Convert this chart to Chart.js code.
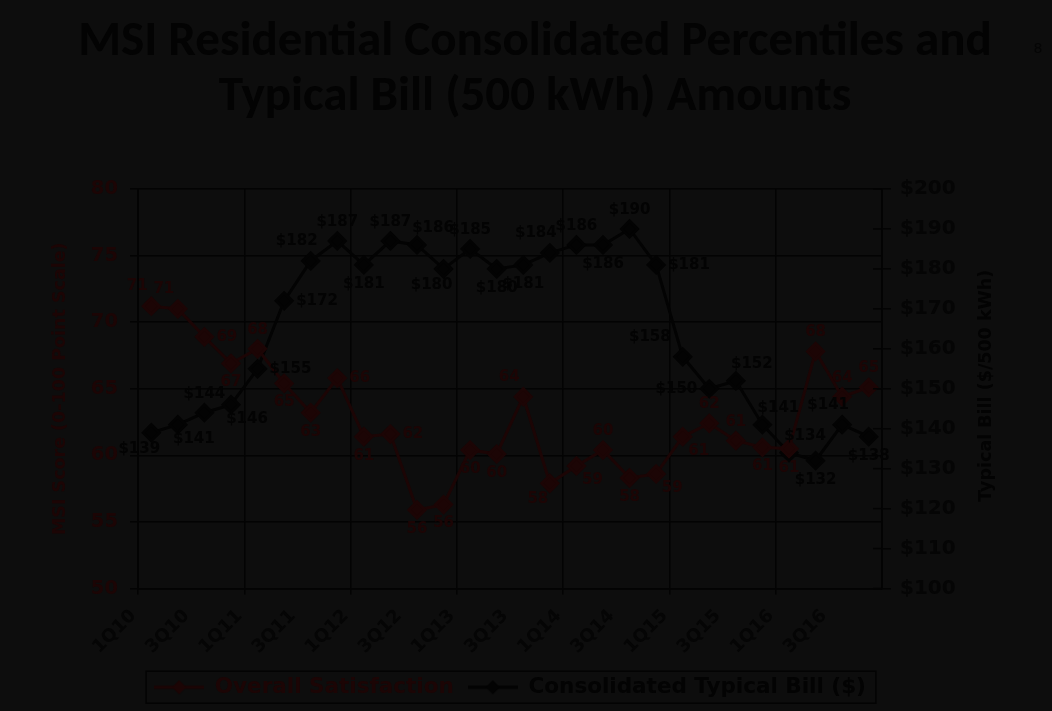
<!DOCTYPE html>
<html>
<head>
<meta charset="utf-8">
<script src="https://cdn.jsdelivr.net/npm/chart.js"></script>
<style>
html,body{margin:0;padding:0;background:#0d0d0d;}
#wrap{position:relative;width:1052px;height:711px;}
canvas{display:block;}
</style>
</head>
<body>
<div id="wrap"><canvas id="c" width="1052" height="711"></canvas></div>
<script>
const quarters = ['1Q10','2Q10','3Q10','4Q10','1Q11','2Q11','3Q11','4Q11','1Q12','2Q12','3Q12','4Q12','1Q13','2Q13','3Q13','4Q13','1Q14','2Q14','3Q14','4Q14','1Q15','2Q15','3Q15','4Q15','1Q16','2Q16','3Q16','4Q16'];
const overallSatisfaction = [71.2,71.0,68.9,66.9,68.0,65.4,63.2,65.8,61.4,61.6,55.9,56.3,60.4,60.1,64.4,57.9,59.2,60.4,58.3,58.6,61.4,62.4,61.1,60.6,60.5,67.8,64.4,65.1];
const typicalBill = [139,141,144,146,155,172,182,187,181,187,186,180,185,180,181,184,186,186,190,181,158,150,152,141,134,132,141,138];
const scoreRange = [50, 80, 5];
const billRange = [100, 200, 10];
const satLabelAnchor = ['al','al','r','b','a','b','b','r','b','r','b','b','b','b','al','bl','br','a','b','br','br','a','a','b','b','a','a','a'];
const billLabelAnchor = ['bl','br','a','br','r','r','al','a','b','a','ar','bl','a','b','b','al','a','b','a','r','lu','l','ar','ar','ar','b','al','b'];

const BG = '#0d0d0d';
const INK = '#030303';
const RED = '#1c0505';
const GRAYTXT = '#050505';

Chart.defaults.font.family = '"DejaVu Sans"';

function makeMarker(color){
  const cv = document.createElement('canvas');
  cv.width = 50; cv.height = 20;
  const x = cv.getContext('2d');
  x.strokeStyle = color; x.lineWidth = 3;
  x.beginPath(); x.moveTo(0,10); x.lineTo(50,10); x.stroke();
  x.fillStyle = color;
  x.beginPath(); x.moveTo(25,3); x.lineTo(32,10); x.lineTo(25,17); x.lineTo(18,10); x.closePath(); x.fill();
  return cv;
}

const ANCH = {
  a:{dx:0,dy:-19,al:'center'}, b:{dx:0,dy:19,al:'center'},
  l:{dx:-12,dy:0,al:'right'}, r:{dx:12,dy:0,al:'left'},
  al:{dx:-14,dy:-20,al:'center'}, ar:{dx:16,dy:-17,al:'center'},
  bl:{dx:-12,dy:16,al:'center'}, br:{dx:16,dy:14,al:'center'},
  lu:{dx:-12,dy:-20,al:'right'}
};

const bgPlugin = {id:'bg', beforeDraw(c){const ctx=c.ctx; ctx.save(); ctx.fillStyle=BG; ctx.fillRect(0,0,c.width,c.height); ctx.restore();}};

const labelPlugin = {id:'ptLabels', afterDatasetsDraw(c){
  const ctx = c.ctx; ctx.save();
  ctx.font = 'bold 15px "DejaVu Sans"'; ctx.textBaseline = 'middle';
  c.data.datasets.forEach((ds,di)=>{
    const meta = c.getDatasetMeta(di);
    meta.data.forEach((el,i)=>{
      const a = ANCH[ds.labelAnchor[i]];
      ctx.fillStyle = ds.labelColor; ctx.textAlign = a.al;
      ctx.fillText(ds.labelFormat(ds.data[i]), el.x + a.dx, el.y + a.dy);
    });
  });
  ctx.restore();
}};

const decoPlugin = {id:'deco', afterDraw(c){
  const ctx = c.ctx; ctx.save();
  const y2 = c.scales.y2, ca = c.chartArea;
  ctx.strokeStyle = INK; ctx.lineWidth = 1.5;
  y2.ticks.forEach(t=>{ const y = y2.getPixelForValue(t.value); ctx.beginPath(); ctx.moveTo(ca.right-9,y); ctx.lineTo(ca.right,y); ctx.stroke(); });
  // right axis title, reading bottom to top
  ctx.font = 'bold 17.5px "DejaVu Sans"'; ctx.fillStyle = INK; ctx.textAlign='center'; ctx.textBaseline='middle';
  ctx.translate(986, (ca.top+ca.bottom)/2 - 3); ctx.rotate(-Math.PI/2);
  ctx.fillText(y2.options.title.text, 0, 0);
  ctx.setTransform(1,0,0,1,0,0);
  // legend frame
  const lg = c.legend;
  if (lg && lg.legendHitBoxes && lg.legendHitBoxes.length){
    const hb = lg.legendHitBoxes;
    const l = Math.min(...hb.map(h=>h.left)) - 8, r = Math.max(...hb.map(h=>h.left+h.width)) + 10;
    const cy = hb[0].top + hb[0].height/2;
    ctx.strokeStyle = INK; ctx.lineWidth = 1.5;
    ctx.strokeRect(l, cy-16, r-l, 32);
  }
  // slide number
  ctx.font = '14px "DejaVu Sans"'; ctx.fillStyle = GRAYTXT; ctx.textAlign='center'; ctx.textBaseline='middle';
  ctx.fillText('8', 1038, 49);
  ctx.restore();
}};

new Chart(document.getElementById('c'), {
  type:'line',
  data:{
    labels: quarters,
    datasets:[
      {label:'Overall Satisfaction', data: overallSatisfaction, yAxisID:'y', borderColor:RED, backgroundColor:RED, borderWidth:3, pointStyle:'rectRot', pointRadius:8, pointBackgroundColor:RED, pointBorderColor:RED, tension:0,
       labelAnchor: satLabelAnchor, labelColor: RED, labelFormat: v=>String(Math.round(v))},
      {label:'Consolidated Typical Bill ($)', data: typicalBill, yAxisID:'y2', borderColor:INK, backgroundColor:INK, borderWidth:3, pointStyle:'rectRot', pointRadius:8, pointBackgroundColor:INK, pointBorderColor:INK, tension:0,
       labelAnchor: billLabelAnchor, labelColor: INK, labelFormat: v=>'$'+v}
    ]
  },
  options:{
    responsive:false, animation:false, devicePixelRatio:1,
    layout:{padding:{left:18,right:0,top:0,bottom:3}},
    plugins:{
      tooltip:{enabled:false},
      title:{display:true, fullSize:true, text:['MSI Residential Consolidated Percentiles and','Typical Bill (500 kWh) Amounts'], color:INK,
        font:{family:'Carlito', size:49, weight:'bold', lineHeight:'55px'}, padding:{top:15,bottom:64}},
      legend:{position:'bottom', fullSize:false, labels:{usePointStyle:true, pointStyleWidth:50, boxHeight:18, padding:14, font:{size:21.5, weight:'bold'},
        generateLabels(chart){ return chart.data.datasets.map((ds,i)=>({text:ds.label, fontColor:ds.labelColor, pointStyle:makeMarker(ds.borderColor), datasetIndex:i, hidden:false, lineWidth:0, strokeStyle:'rgba(0,0,0,0)', fillStyle:'rgba(0,0,0,0)'})); }}}
    },
    scales:{
      x:{type:'category', offset:true,
        grid:{offset:true, color:ctx=>ctx.index%4===0?INK:'rgba(0,0,0,0)', lineWidth:1.5, tickLength:6, drawTicks:true},
        border:{display:true,color:INK,width:1.5},
        ticks:{autoSkip:false, maxRotation:45, minRotation:45, labelOffset:-18, padding:11, color:GRAYTXT, font:{size:18, weight:'bold'},
          callback:(v,i)=> i%2===0 ? quarters[i] : ''},
        afterFit:s=>{s.height=74;}},
      y:{position:'left', min:scoreRange[0], max:scoreRange[1],
        ticks:{stepSize:scoreRange[2], color:RED, padding:12, font:{size:19.5, weight:'bold'}},
        grid:{color:INK, lineWidth:1.5, tickLength:8},
        border:{display:true,color:INK,width:2},
        title:{display:true, text:'MSI Score (0-100 Point Scale)', color:RED, font:{size:17.5, weight:'bold'}, padding:{top:32,bottom:0}},
        afterFit:s=>{s.width=120;}},
      y2:{position:'right', min:billRange[0], max:billRange[1],
        ticks:{stepSize:billRange[2], color:GRAYTXT, padding:9, font:{size:20, weight:'bold'}, callback:v=>'$'+v},
        grid:{drawOnChartArea:false, color:INK, lineWidth:1.5, tickLength:9},
        border:{display:true,color:INK,width:2},
        title:{display:false, text:'Typical Bill ($/500 kWh)'},
        afterFit:s=>{s.width=170;}}
    }
  },
  plugins:[bgPlugin, labelPlugin, decoPlugin]
});
</script>
</body>
</html>
